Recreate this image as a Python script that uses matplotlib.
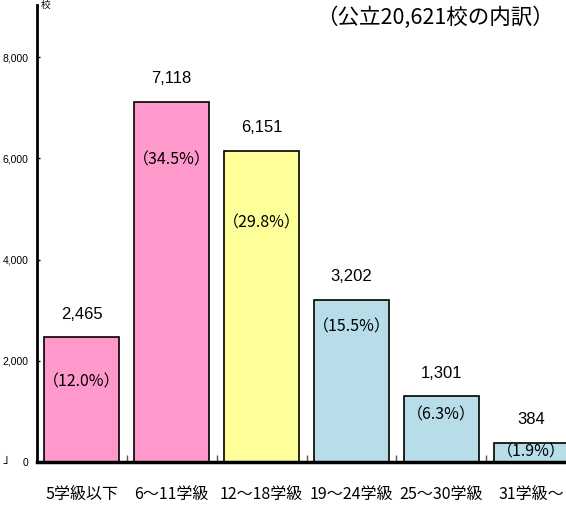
import matplotlib
matplotlib.use("Agg")
import matplotlib.pyplot as plt
from matplotlib import font_manager

# データ
categories = ["5学級以下", "6～11学級", "12～18学級", "19～24学級", "25～30学級", "31学級～"]
schools = [2465, 7118, 6151, 3202, 1301, 384]
percents = [12.0, 34.5, 29.8, 15.5, 6.3, 1.9]
y_ticks = [0, 2000, 4000, 6000, 8000]

bar_colors = ["#FF99CC", "#FF99CC", "#FFFF99", "#B7DDE8", "#B7DDE8", "#B7DDE8"]
pct_drop_px = [45, 58, 72, 27, 19, 9]  # 棒の上端から割合ラベルまでの距離

jp = "Noto Sans CJK JP"
names = {f.name for f in font_manager.fontManager.ttflist}
narrow = "Liberation Sans Narrow" if "Liberation Sans Narrow" in names else "Liberation Sans"

fig = plt.figure(figsize=(5.66, 5.12), dpi=100)
ax = fig.add_axes([37 / 566, 50 / 512, 539 / 566, 457 / 512])

x = list(range(len(categories)))
bars = ax.bar(x, schools, width=0.835, color=bar_colors, edgecolor="black", linewidth=1.2, zorder=2)

ax.set_xlim(-0.5, 5.5)
ax.set_ylim(0, 9030)

for b, v, p, d in zip(bars, schools, percents, pct_drop_px):
    cx = b.get_x() + b.get_width() / 2
    ax.annotate(f"{v:,}", (cx, v), xytext=(0, 23), textcoords="offset pixels",
                ha="center", va="center", fontsize=12, family=narrow, zorder=3)
    ax.annotate(f"（{p:.1f}%）", (cx, v), xytext=(0, -d), textcoords="offset pixels",
                ha="center", va="center", fontsize=11.5, family=[jp, "DejaVu Sans"], zorder=3)

# 軸
for s in ["top", "right"]:
    ax.spines[s].set_visible(False)
ax.spines["left"].set_linewidth(2)
ax.spines["bottom"].set_linewidth(2.5)
ax.spines["left"].set_zorder(4)
ax.spines["bottom"].set_zorder(4)

ax.set_yticks(y_ticks)
ax.set_yticklabels([f"{t:,}" for t in y_ticks], family=narrow, fontsize=7.5)
ax.tick_params(axis="y", direction="in", length=2, width=1, pad=6)

ax.set_xticks(x)
ax.set_xticklabels(categories, family=[jp, "DejaVu Sans"], fontsize=11.5)
ax.tick_params(axis="x", which="major", length=0, pad=17)
ax.set_xticks([i + 0.5 for i in x[:-1]], minor=True)
ax.tick_params(axis="x", which="minor", direction="in", length=5, width=1, color="#555555")

fig.text(554 / 566, 1 - 18 / 512, "（公立20,621校の内訳）", ha="right", va="center",
         fontsize=15.5, family=[jp, "DejaVu Sans"])
fig.text(41 / 566, 1 - 5 / 512, "校", ha="left", va="center", fontsize=7, family=jp)
fig.text(3 / 566, 1 - 460 / 512, "」", ha="left", va="center", fontsize=9, family=jp)

fig.savefig("out.png", dpi=100)
